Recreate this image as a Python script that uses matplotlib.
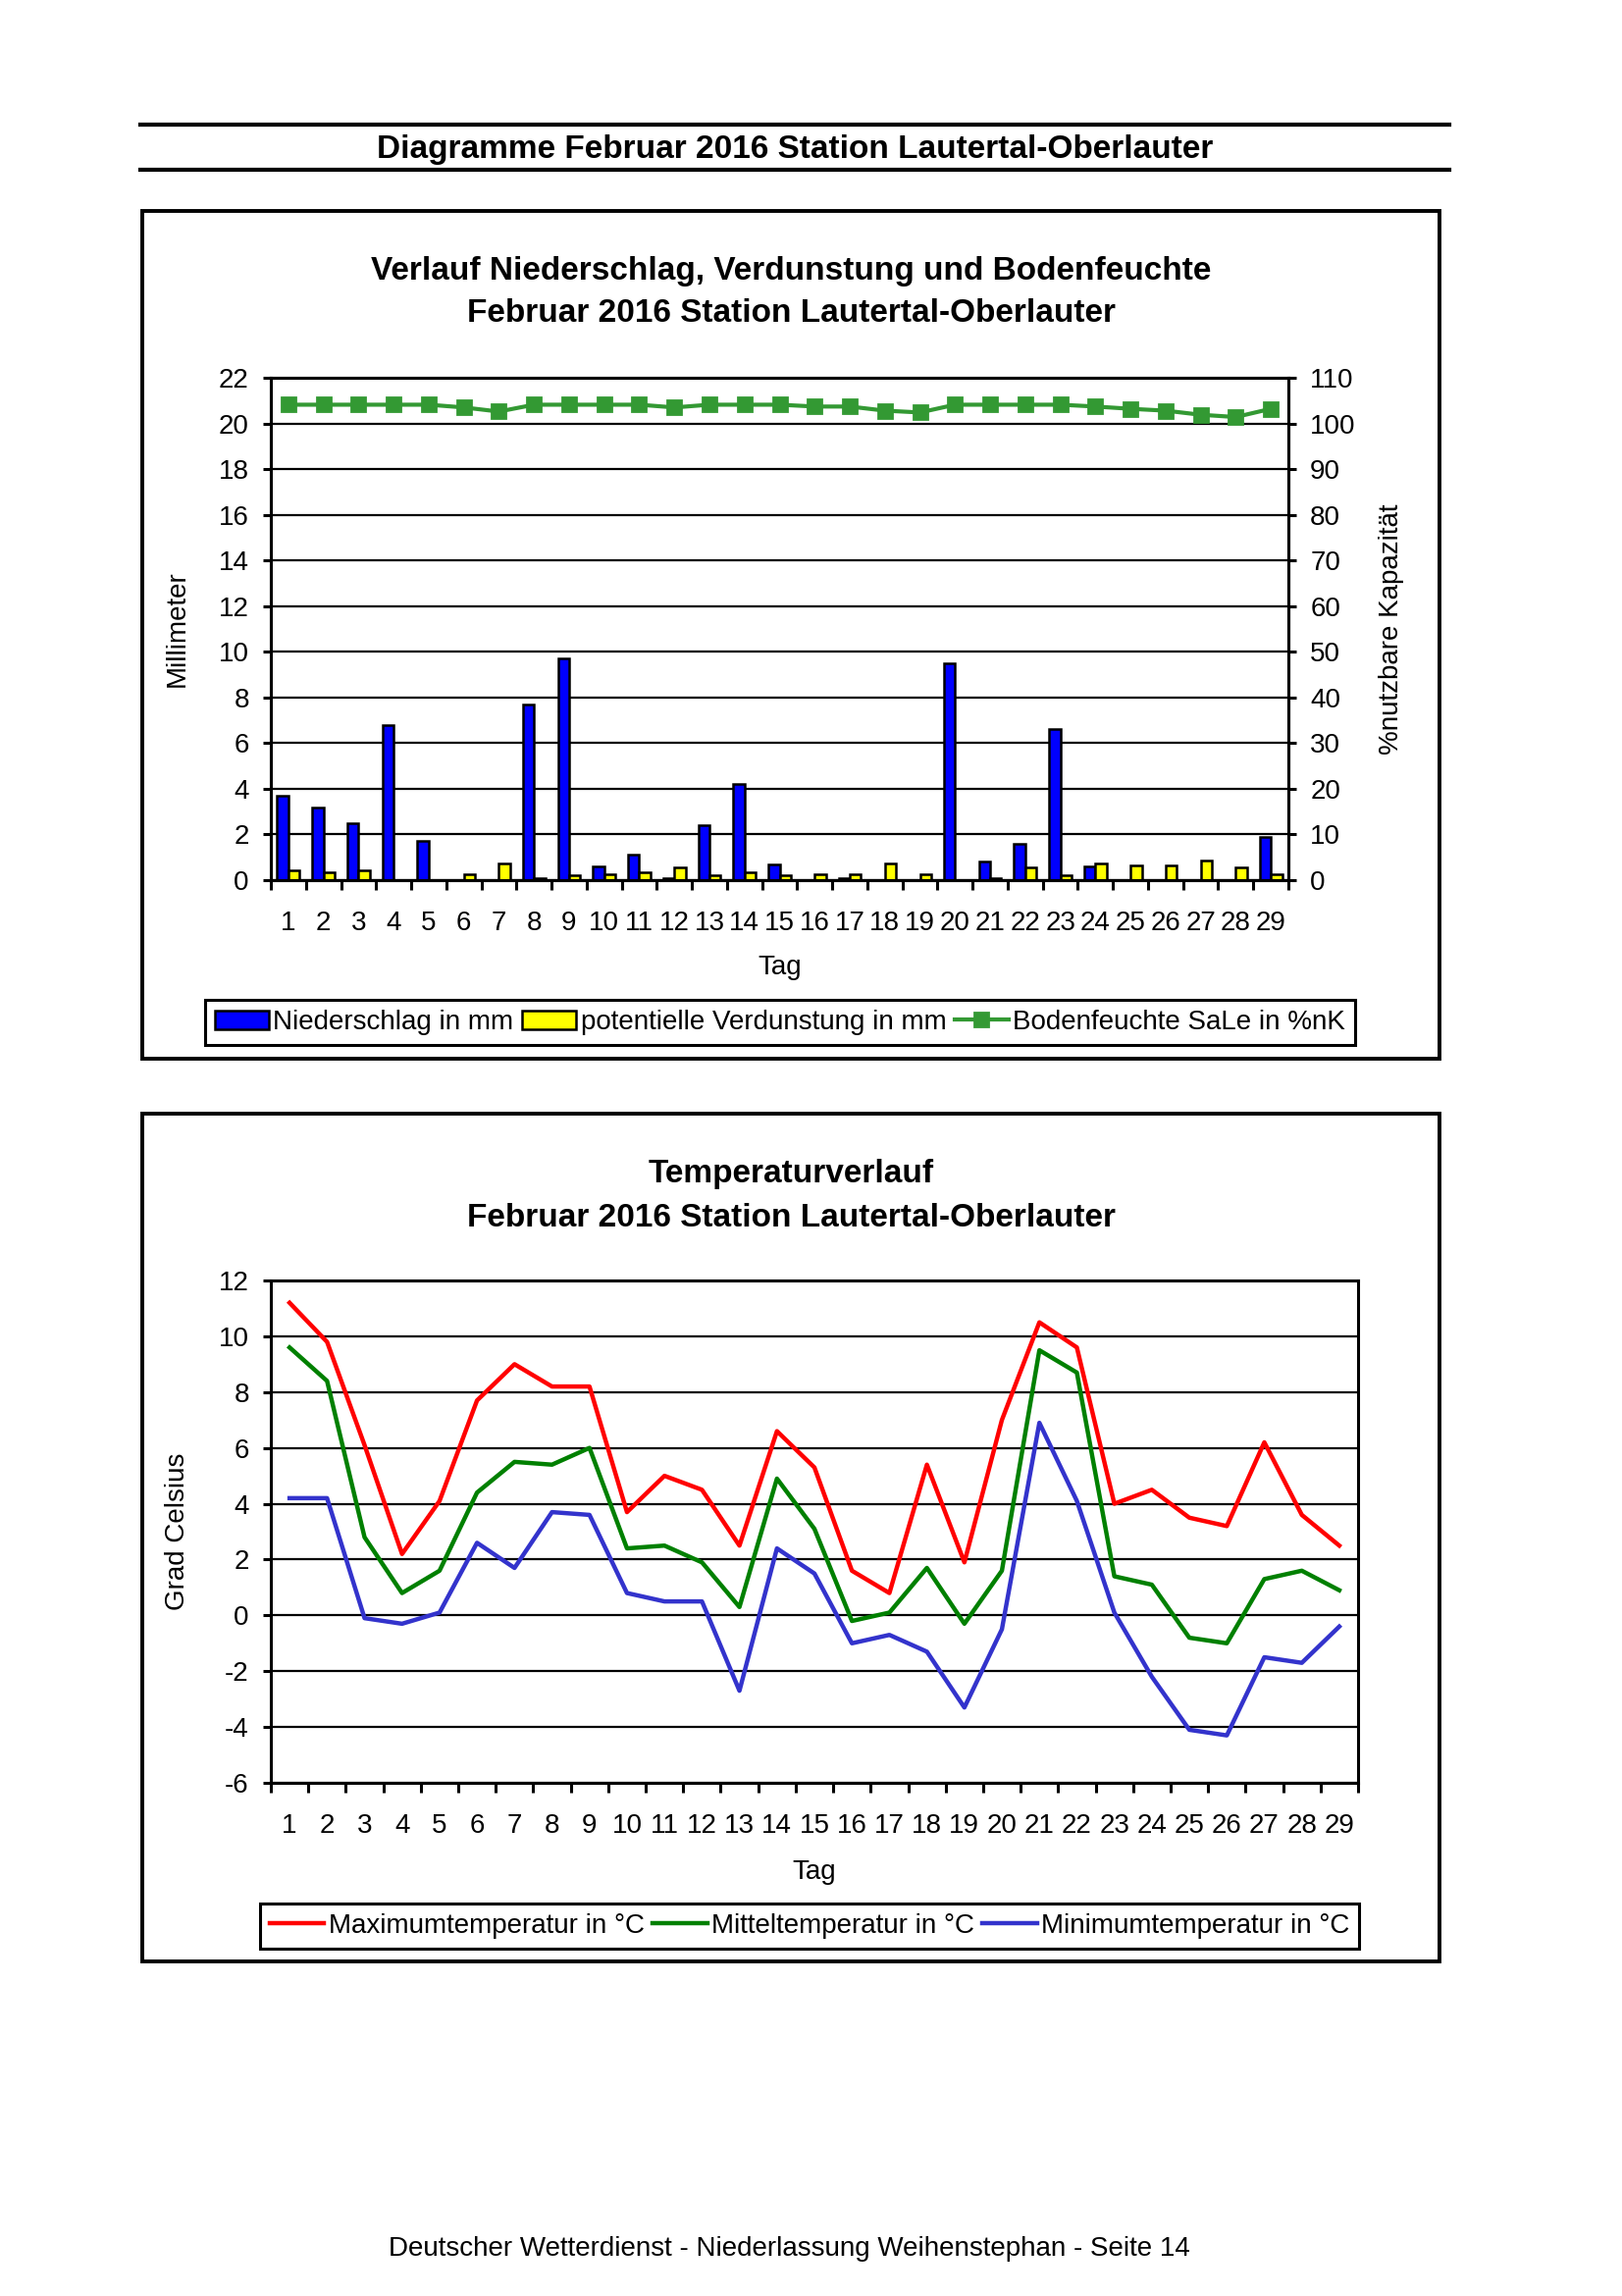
import numpy as np
import matplotlib
matplotlib.use("Agg")
import matplotlib.pyplot as plt
from matplotlib.lines import Line2D
from matplotlib.patches import Rectangle

plt.rcParams['font.family'] = ['Liberation Sans', 'DejaVu Sans']
plt.rcParams['axes.unicode_minus'] = False

# --- data (Februar 2016, Lautertal-Oberlauter) ---
tage = list(range(1, 30))
tag_labels = [str(t) for t in tage]

niederschlag = [3.7, 3.2, 2.5, 6.8, 1.7, 0.0, 0.0, 7.7, 9.7, 0.6, 1.1, 0.1, 2.4, 4.2, 0.7,
                0.0, 0.1, 0.0, 0.0, 9.5, 0.8, 1.6, 6.6, 0.6, 0.0, 0.0, 0.0, 0.0, 1.9]
verdunstung = [0.45, 0.35, 0.45, 0.0, 0.0, 0.25, 0.75, 0.1, 0.2, 0.25, 0.35, 0.55, 0.2, 0.35, 0.2,
               0.25, 0.25, 0.75, 0.25, 0.0, 0.1, 0.55, 0.2, 0.75, 0.65, 0.65, 0.85, 0.55, 0.25]
bodenfeuchte = [104.1, 104.1, 104.1, 104.1, 104.1, 103.5, 102.6, 104.1, 104.1, 104.1, 104.1, 103.5,
                104.1, 104.1, 104.1, 103.7, 103.7, 102.8, 102.4, 104.1, 104.1, 104.1, 104.1, 103.7,
                103.2, 102.8, 101.9, 101.4, 103.2]

tmax = [11.2, 9.8, 6.1, 2.2, 4.1, 7.7, 9.0, 8.2, 8.2, 3.7, 5.0, 4.5, 2.5, 6.6, 5.3,
        1.6, 0.8, 5.4, 1.9, 7.0, 10.5, 9.6, 4.0, 4.5, 3.5, 3.2, 6.2, 3.6, 2.5]
tmittel = [9.6, 8.4, 2.8, 0.8, 1.6, 4.4, 5.5, 5.4, 6.0, 2.4, 2.5, 1.9, 0.3, 4.9, 3.1,
           -0.2, 0.1, 1.7, -0.3, 1.6, 9.5, 8.7, 1.4, 1.1, -0.8, -1.0, 1.3, 1.6, 0.9]
tmin = [4.2, 4.2, -0.1, -0.3, 0.1, 2.6, 1.7, 3.7, 3.6, 0.8, 0.5, 0.5, -2.7, 2.4, 1.5,
        -1.0, -0.7, -1.3, -3.3, -0.5, 6.9, 4.1, 0.1, -2.2, -4.1, -4.3, -1.5, -1.7, -0.4]

W, H = 1653, 2340
def fx(x):
    return x / W
def fy(y):
    return 1 - y / H

fig = plt.figure(figsize=(W / 200, H / 200), dpi=200)

# page header
for yy in (127, 173):
    fig.add_artist(Line2D([fx(143), fx(1477)], [fy(yy), fy(yy)], transform=fig.transFigure,
                          color='black', lw=1.5))
fig.text(fx(810), fy(153), 'Diagramme Februar 2016 Station Lautertal-Oberlauter',
         ha='center', va='center', fontsize=12, fontweight='bold')

# chart frames
for y0, y1 in ((215, 1079), (1135, 1999)):
    fig.add_artist(Rectangle((fx(145), fy(y1)), fx(1467) - fx(145), fy(y0) - fy(y1),
                             transform=fig.transFigure, fill=False, ec='black', lw=1.4))


def style_axes(ax):
    for s in ax.spines.values():
        s.set_linewidth(1.1)
    ax.set_xlim(0.5, 29.5)
    ax.set_xticks(np.arange(0.5, 30, 1))
    ax.set_xticklabels([])
    ax.set_xticks(tage, minor=True)
    ax.set_xticklabels(tag_labels, minor=True)
    ax.tick_params(axis='x', which='major', direction='out', length=3.5, width=1.1)
    ax.tick_params(axis='x', which='minor', length=0, pad=11, labelsize=10)
    ax.tick_params(axis='y', direction='out', length=3, width=1.1, pad=5, labelsize=10)
    ax.yaxis.grid(True, color='black', lw=0.8)
    ax.set_axisbelow(True)


# ---------- chart 1: Niederschlag / Verdunstung / Bodenfeuchte ----------
fig.text(fx(806), fy(276), 'Verlauf Niederschlag, Verdunstung und Bodenfeuchte',
         ha='center', va='center', fontsize=12, fontweight='bold')
fig.text(fx(806), fy(319), 'Februar 2016 Station Lautertal-Oberlauter',
         ha='center', va='center', fontsize=12, fontweight='bold')

ax = fig.add_axes([fx(276), fy(897), fx(1313) - fx(276), fy(385) - fy(897)])
x = np.array(tage)
b1 = ax.bar(x - 0.16, niederschlag, 0.32, color='#0000FF', edgecolor='black', lw=0.9,
            label='Niederschlag in mm')
b2 = ax.bar(x + 0.16, verdunstung, 0.32, color='#FFFF00', edgecolor='black', lw=0.9,
            label='potentielle Verdunstung in mm')
ax.set_ylim(0, 22)
ax.set_yticks(range(0, 23, 2))
style_axes(ax)
ax.set_ylabel('Millimeter', fontsize=10)
ax.yaxis.set_label_coords((194 - 276) / 1037, 0.5)
ax.set_xlabel('Tag', fontsize=10, va='center')
ax.xaxis.set_label_coords(0.5, (897 - 986) / 512)

ax2 = ax.twinx()
l1, = ax2.plot(x, bodenfeuchte, color='#339933', lw=1.5, marker='s', ms=5,
               label='Bodenfeuchte SaLe in %nK')
ax2.set_ylim(0, 110)
ax2.set_yticks(range(0, 111, 10))
ax2.tick_params(axis='y', direction='out', length=3, width=1.1, pad=5, labelsize=10)
for s in ax2.spines.values():
    s.set_linewidth(1.1)
ax2.set_ylabel('%nutzbare Kapazität', fontsize=10)
ax2.yaxis.set_label_coords((1405 - 276) / 1037, 0.5)

leg = fig.legend(handles=[b1, b2, l1], loc='center', ncol=3,
                 bbox_to_anchor=(fx(795), fy(1042)), bbox_transform=fig.transFigure,
                 fontsize=10, fancybox=False, edgecolor='black', framealpha=1,
                 handlelength=2.0, handletextpad=0.15, columnspacing=0.3, borderpad=0.35)
leg.get_frame().set_linewidth(1.1)

# ---------- chart 2: Temperaturverlauf ----------
fig.text(fx(806), fy(1197), 'Temperaturverlauf',
         ha='center', va='center', fontsize=12, fontweight='bold')
fig.text(fx(806), fy(1241), 'Februar 2016 Station Lautertal-Oberlauter',
         ha='center', va='center', fontsize=12, fontweight='bold')

axt = fig.add_axes([fx(276), fy(1817), fx(1384) - fx(276), fy(1305) - fy(1817)])
t1, = axt.plot(x, tmax, color='#FF0000', lw=1.6, label='Maximumtemperatur in °C')
t2, = axt.plot(x, tmittel, color='#008000', lw=1.6, label='Mitteltemperatur in °C')
t3, = axt.plot(x, tmin, color='#3333CC', lw=1.6, label='Minimumtemperatur in °C')
axt.set_ylim(-6, 12)
axt.set_yticks(range(-6, 13, 2))
style_axes(axt)
axt.set_ylabel('Grad Celsius', fontsize=10)
axt.yaxis.set_label_coords((194 - 276) / 1108, 0.5)
axt.set_xlabel('Tag', fontsize=10, va='center')
axt.xaxis.set_label_coords(0.5, (1817 - 1908) / 512)

leg2 = fig.legend(handles=[t1, t2, t3], loc='center', ncol=3,
                  bbox_to_anchor=(fx(825), fy(1963)), bbox_transform=fig.transFigure,
                  fontsize=10, fancybox=False, edgecolor='black', framealpha=1,
                  handlelength=2.0, handletextpad=0.15, columnspacing=0.3, borderpad=0.35)
leg2.get_frame().set_linewidth(1.1)

fig.text(fx(804), fy(2292), 'Deutscher Wetterdienst - Niederlassung Weihenstephan - Seite 14',
         ha='center', va='center', fontsize=10)

fig.savefig('out.png', dpi=200)
